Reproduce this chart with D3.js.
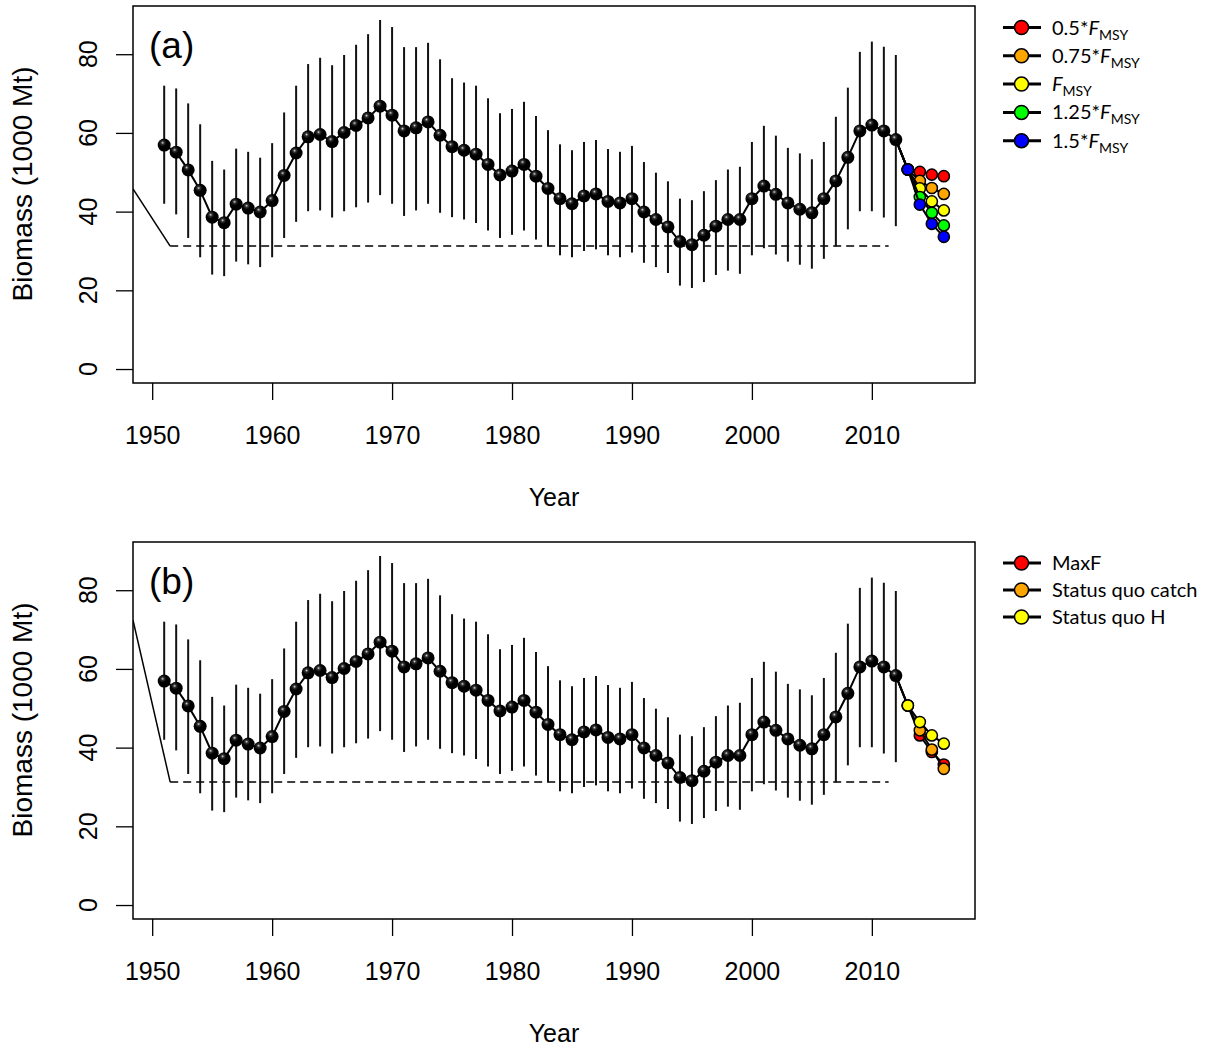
<!DOCTYPE html>
<html>
<head>
<meta charset="utf-8">
<script src="https://cdn.jsdelivr.net/npm/d3@7"></script>
<style>
  html, body { margin: 0; padding: 0; background: #fff; }
  svg { display: block; }
  .axis-text { font-family: "Liberation Sans", Arial, Helvetica, sans-serif; fill: #000; }
  .legend-text { font-family: Lato, "Open Sans", sans-serif; fill: #000; }
</style>
</head>
<body>
<svg id="chart" width="1212" height="1049"></svg>
<script>
// Estimated stock biomass (1000 Mt), 1951-2012, with interval bounds
const years = d3.range(1951, 2013);
const biomass = [
  56.9, 55.1, 50.6, 45.4, 38.6, 37.2, 41.9, 40.9, 39.9, 42.8,
  49.2, 54.9, 59.0, 59.6, 57.8, 60.1, 61.9, 63.8, 66.8, 64.5,
  60.5, 61.3, 62.8, 59.4, 56.5, 55.6, 54.6, 52.0, 49.3, 50.3,
  52.0, 49.0, 45.9, 43.3, 42.0, 44.0, 44.5, 42.6, 42.2, 43.3,
  39.9, 38.0, 36.1, 32.4, 31.6, 34.0, 36.3, 38.0, 38.0, 43.3,
  46.5, 44.4, 42.2, 40.6, 39.7, 43.3, 47.8, 53.8, 60.5, 62.0,
  60.5, 58.3
];
const upper = [
  72.0, 71.3, 67.5, 62.2, 52.9, 50.7, 56.0, 55.2, 53.7, 57.4,
  65.2, 72.0, 77.5, 79.1, 77.2, 79.8, 82.4, 85.1, 88.7, 86.9,
  81.8, 81.8, 82.9, 78.7, 73.9, 72.8, 72.0, 68.8, 65.0, 66.1,
  67.9, 64.3, 60.7, 57.1, 55.6, 57.7, 58.2, 55.9, 55.2, 56.7,
  52.6, 49.9, 47.7, 43.3, 42.9, 45.2, 48.0, 50.7, 51.4, 57.7,
  61.8, 59.3, 56.2, 54.8, 53.3, 57.7, 64.1, 71.5, 80.6, 83.2,
  81.9, 79.8
];
const lower = [
  42.0, 39.3, 33.3, 28.4, 24.0, 23.6, 27.3, 26.6, 25.9, 28.4,
  33.3, 37.4, 40.1, 40.3, 38.5, 40.1, 41.1, 42.3, 44.2, 42.0,
  38.9, 40.3, 42.0, 39.7, 38.6, 38.0, 37.1, 35.2, 33.3, 34.1,
  35.2, 32.9, 31.2, 28.9, 28.4, 30.0, 30.4, 28.9, 28.4, 29.6,
  27.0, 25.9, 24.4, 21.2, 20.6, 22.1, 23.9, 25.0, 24.2, 28.9,
  30.7, 29.1, 27.3, 26.5, 25.5, 28.0, 31.2, 35.5, 40.1, 40.1,
  38.5, 36.3
];

// Projection years and scenarios
const projYears = [2013, 2014, 2015, 2016];

const fScenarioNames = ["0.5*", "0.75*", "", "1.25*", "1.5*"];
const fScenarioColors = ["#ff0000", "#ffa500", "#ffff00", "#00ff00", "#0000ff"];
const fScenarioValues = [
  [50.7, 50.1, 49.4, 49.0],
  [50.7, 47.8, 46.0, 44.5],
  [50.7, 45.9, 42.6, 40.3],
  [50.7, 43.7, 39.7, 36.5],
  [50.7, 41.8, 36.9, 33.6]
];

const altScenarioNames = ["MaxF", "Status quo catch", "Status quo H"];
const altScenarioColors = ["#ff0000", "#ffa500", "#ffff00"];
const altScenarioValues = [
  [50.7, 43.1, 38.9, 35.7],
  [50.7, 44.4, 39.5, 34.6],
  [50.7, 46.5, 43.1, 41.0]
];

// Reference level: sloping segment into the axis, then flat dashed level
const refLevel = 31.25;
const refKneeYear = 1951.5;
const refEndYear = 2011.4;
const refStartA = 45.8;
const refStartB = 72.4;

const xTicks = [1950, 1960, 1970, 1980, 1990, 2000, 2010];
const yTicks = [0, 20, 40, 60, 80];

const svg = d3.select("#chart");

const defs = svg.append("defs");
const grad = defs.append("radialGradient")
  .attr("id", "ball").attr("cx", "38%").attr("cy", "32%").attr("r", "65%");
grad.append("stop").attr("offset", "0%").attr("stop-color", "#d8d8d8");
grad.append("stop").attr("offset", "18%").attr("stop-color", "#333");
grad.append("stop").attr("offset", "45%").attr("stop-color", "#000");
grad.append("stop").attr("offset", "100%").attr("stop-color", "#000");

const x = d3.scaleLinear().domain([1948.4, 2018.6]).range([133, 975]);

function drawPanel(top, tag, refStart, scenarios, colors, names, legendItems) {
  const y = d3.scaleLinear().domain([-3.55, 92.25]).range([top + 377, top]);
  const g = svg.append("g");
  const clipId = "clip-" + tag;
  defs.append("clipPath").attr("id", clipId)
    .append("rect").attr("x", x.range()[0]).attr("y", top)
    .attr("width", x.range()[1] - x.range()[0]).attr("height", 377);

  const plot = g.append("g").attr("clip-path", `url(#${clipId})`);

  // reference level
  const xMin = x.domain()[0];
  plot.append("path")
    .attr("d", d3.line()([[x(xMin), y(refStart)], [x(refKneeYear), y(refLevel)]]))
    .attr("stroke", "#000").attr("stroke-width", 1.5).attr("fill", "none");
  plot.append("path")
    .attr("d", d3.line()([[x(refKneeYear), y(refLevel)], [x(refEndYear), y(refLevel)]]))
    .attr("stroke", "#000").attr("stroke-width", 1.5).attr("fill", "none")
    .attr("stroke-dasharray", "8,5");

  // interval bars
  plot.append("g").selectAll("line").data(years).join("line")
    .attr("x1", d => x(d)).attr("x2", d => x(d))
    .attr("y1", (d, i) => y(lower[i])).attr("y2", (d, i) => y(upper[i]))
    .attr("stroke", "#111").attr("stroke-width", 2);

  // biomass line
  const line = d3.line().x(d => x(d[0])).y(d => y(d[1]));
  const hist = years.map((yr, i) => [yr, biomass[i]]);
  plot.append("path").attr("d", line(hist))
    .attr("stroke", "#000").attr("stroke-width", 2).attr("fill", "none");

  // projection lines and points
  const last = hist[hist.length - 1];
  scenarios.forEach((vals, k) => {
    const pts = projYears.map((yr, i) => [yr, vals[i]]);
    plot.append("path").attr("d", line([last, ...pts]))
      .attr("stroke", "#000").attr("stroke-width", 2).attr("fill", "none");
    plot.append("g").selectAll("circle").data(pts).join("circle")
      .attr("cx", d => x(d[0])).attr("cy", d => y(d[1])).attr("r", 5.6)
      .attr("fill", colors[k]).attr("stroke", "#000").attr("stroke-width", 1.5);
  });

  // historical points
  plot.append("g").selectAll("circle").data(hist).join("circle")
    .attr("cx", d => x(d[0])).attr("cy", d => y(d[1])).attr("r", 6.5)
    .attr("fill", "url(#ball)");

  // frame
  g.append("rect").attr("x", x.range()[0]).attr("y", top)
    .attr("width", x.range()[1] - x.range()[0]).attr("height", 377)
    .attr("fill", "none").attr("stroke", "#000").attr("stroke-width", 1.5);

  // x axis
  const xa = g.append("g").attr("transform", `translate(0,${top + 377})`)
    .call(d3.axisBottom(x).tickValues(xTicks).tickSize(17).tickPadding(26).tickFormat(d3.format("d")));
  xa.select(".domain").remove();
  xa.selectAll(".tick line").attr("stroke", "#000").attr("stroke-width", 1.3);
  xa.selectAll(".tick text").attr("class", "axis-text").attr("font-size", 25).attr("fill", "#000");

  g.append("text").attr("class", "axis-text").attr("font-size", 25)
    .attr("x", (x.range()[0] + x.range()[1]) / 2).attr("y", top + 500)
    .attr("text-anchor", "middle").text("Year");

  // y axis
  const ya = g.append("g").attr("transform", `translate(${x.range()[0]},0)`)
    .call(d3.axisLeft(y).tickValues(yTicks).tickSize(17).tickFormat(d3.format("d")));
  ya.select(".domain").remove();
  ya.selectAll(".tick line").attr("stroke", "#000").attr("stroke-width", 1.3);
  ya.selectAll(".tick text").remove();
  g.append("g").selectAll("text").data(yTicks).join("text")
    .attr("class", "axis-text").attr("font-size", 25)
    .attr("transform", d => `translate(97,${y(d)}) rotate(-90)`)
    .attr("text-anchor", "middle").text(d => d);

  g.append("text").attr("class", "axis-text").attr("font-size", 28)
    .attr("transform", `translate(32,${top + 178}) rotate(-90)`)
    .attr("text-anchor", "middle").text("Biomass (1000 Mt)");

  // panel tag
  g.append("text").attr("class", "axis-text").attr("font-size", 37)
    .attr("x", 149).attr("y", top + 52).text(`(${tag})`);

  // legend
  const lg = g.append("g");
  legendItems.forEach((item, i) => {
    const ly = item.y;
    lg.append("line").attr("x1", 1003).attr("x2", 1041).attr("y1", ly).attr("y2", ly)
      .attr("stroke", "#000").attr("stroke-width", 3);
    lg.append("circle").attr("cx", 1021.5).attr("cy", ly).attr("r", 7)
      .attr("fill", colors[i]).attr("stroke", "#000").attr("stroke-width", 1.5);
    const t = lg.append("text").attr("class", "legend-text").attr("font-size", 20)
      .attr("x", 1052).attr("y", ly + 7);
    if (item.msy) {
      t.append("tspan").text(names[i]);
      t.append("tspan").attr("font-style", "italic").text("F");
      t.append("tspan").attr("font-size", 14).attr("dy", 5).text("MSY");
    } else {
      t.text(names[i]);
    }
  });
}

drawPanel(6, "a", refStartA, fScenarioValues, fScenarioColors, fScenarioNames,
  fScenarioNames.map((n, i) => ({ y: 27.5 + 28.3 * i, msy: true })));
drawPanel(542, "b", refStartB, altScenarioValues, altScenarioColors, altScenarioNames,
  altScenarioNames.map((n, i) => ({ y: 563 + 27 * i, msy: false })));
</script>
</body>
</html>
